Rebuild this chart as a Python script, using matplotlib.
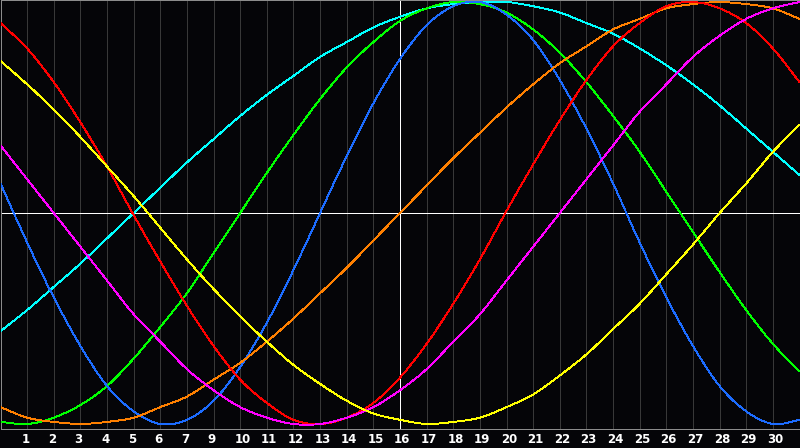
import matplotlib
matplotlib.use('Agg')
import matplotlib.pyplot as plt
import matplotlib.transforms as mtransforms
from matplotlib.path import Path
from matplotlib.patches import PathPatch

# biorhythm values, one per day column (0..30), range -1..1
days = list(range(31))

physical = [0.14, -0.14, -0.40, -0.63, -0.82, -0.94, -1.00, -0.98, -0.89, -0.73, -0.52,
            -0.27, 0.00, 0.27, 0.52, 0.73, 0.89, 0.98, 1.00, 0.94, 0.82, 0.63, 0.40,
            0.14, -0.14, -0.40, -0.63, -0.82, -0.94, -1.00, -0.98]
emotional = [0.90, 0.78, 0.62, 0.43, 0.22, -0.01, -0.23, -0.44, -0.63, -0.79, -0.90,
             -0.98, -1.00, -0.97, -0.90, -0.78, -0.62, -0.43, -0.22, 0.01, 0.23, 0.44,
             0.63, 0.79, 0.90, 0.98, 1.00, 0.97, 0.90, 0.78, 0.62]
intellectual = [-0.99, -1.00, -0.97, -0.91, -0.82, -0.69, -0.54, -0.38, -0.19, 0.00, 0.19,
                0.37, 0.54, 0.69, 0.81, 0.91, 0.97, 1.00, 0.99, 0.95, 0.87, 0.76, 0.62,
                0.46, 0.29, 0.10, -0.09, -0.28, -0.46, -0.62, -0.75]
intuitive = [0.32, 0.16, 0.00, -0.16, -0.32, -0.48, -0.61, -0.74, -0.84, -0.92, -0.97,
             -1.00, -1.00, -0.97, -0.92, -0.84, -0.74, -0.61, -0.48, -0.32, -0.16, 0.00,
             0.16, 0.32, 0.48, 0.61, 0.74, 0.84, 0.92, 0.97, 1.00]
aesthetic = [0.72, 0.61, 0.49, 0.36, 0.22, 0.08, -0.07, -0.22, -0.36, -0.49, -0.61,
             -0.72, -0.81, -0.89, -0.95, -0.98, -1.00, -0.99, -0.97, -0.92, -0.86, -0.77,
             -0.67, -0.55, -0.43, -0.29, -0.15, 0.00, 0.14, 0.29, 0.42]
awareness = [-0.92, -0.97, -0.99, -1.00, -0.99, -0.97, -0.92, -0.87, -0.79, -0.71, -0.61,
             -0.50, -0.38, -0.26, -0.13, 0.00, 0.13, 0.26, 0.38, 0.50, 0.61, 0.71, 0.79,
             0.87, 0.92, 0.97, 0.99, 1.00, 0.99, 0.97, 0.92]
spiritual = [-0.56, -0.46, -0.35, -0.24, -0.12, 0.00, 0.12, 0.24, 0.35, 0.46, 0.56,
             0.65, 0.74, 0.81, 0.88, 0.93, 0.97, 0.99, 1.00, 1.00, 0.98, 0.95, 0.90,
             0.85, 0.78, 0.70, 0.61, 0.51, 0.40, 0.29, 0.18]

day_labels = ['1', '2', '3', '4', '5', '6', '7', '9', '10', '11', '12', '13', '14', '15',
              '16', '17', '18', '19', '20', '21', '22', '23', '24', '25', '26', '27',
              '28', '29', '30']
today = 15

series = [
    (spiritual, '#00ffff'),
    (intellectual, '#00ff00'),
    (physical, '#1c6cff'),
    (awareness, '#ff8000'),
    (emotional, '#ff0000'),
    (intuitive, '#ff00ff'),
    (aesthetic, '#ffff00'),
]

bg = '#050508'
px = 72 / 100  # one pixel in points


def smooth_path(xs, ys):
    # catmull-rom through the points, drawn as cubic bezier segments
    n = len(xs)
    verts = [(xs[0], ys[0])]
    codes = [Path.MOVETO]
    for i in range(n - 1):
        x0, y0 = xs[max(i - 1, 0)], ys[max(i - 1, 0)]
        x1, y1 = xs[i], ys[i]
        x2, y2 = xs[i + 1], ys[i + 1]
        x3, y3 = xs[min(i + 2, n - 1)], ys[min(i + 2, n - 1)]
        verts += [(x1 + (x2 - x0) / 6, y1 + (y2 - y0) / 6),
                  (x2 - (x3 - x1) / 6, y2 - (y3 - y1) / 6),
                  (x2, y2)]
        codes += [Path.CURVE4] * 3
    return Path(verts, codes)


fig = plt.figure(figsize=(8, 4.48), dpi=100, facecolor=bg)
ax = fig.add_axes([0.5 / 800, 19.5 / 448, 799 / 800, 428 / 448])
ax.set_facecolor(bg)
ax.set_xlim(0, 30)
ax.set_ylim((213 - 428.5) / 211, (213 - 0.5) / 211)
ax.set_xticks([])
ax.set_yticks([])
for s in ax.spines.values():
    s.set_color('#8c8c8c')
    s.set_linewidth(px)

for k in range(1, 30):
    ax.axvline(k, color='#383838', lw=px, antialiased=False, zorder=1)

ax.axvline(today, color='white', lw=px, antialiased=False, zorder=2)
ax.axhline(0, color='white', lw=px, antialiased=False, zorder=2)

for vals, col in series:
    patch = PathPatch(smooth_path(days, vals), facecolor='none', edgecolor=col,
                      lw=0.9 * px, antialiased=False, zorder=3)
    ax.add_patch(patch)

trans = mtransforms.blended_transform_factory(ax.transData, ax.transAxes)
for k, lab in enumerate(day_labels, start=1):
    ax.text(k - 0.22, -0.026, lab, transform=trans, ha='left', va='center',
            color='white', fontsize=8.5, fontweight='bold', family='DejaVu Sans')

fig.savefig('out.png', dpi=100, facecolor=bg)
